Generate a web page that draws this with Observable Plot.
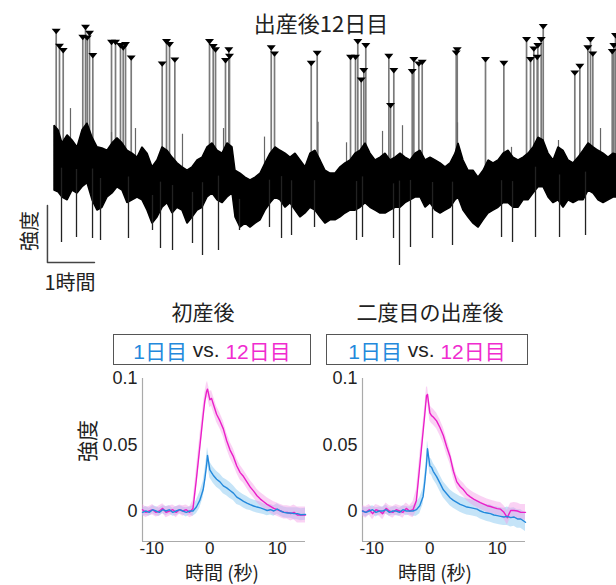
<!DOCTYPE html>
<html><head><meta charset="utf-8">
<script src="https://cdn.jsdelivr.net/npm/d3@7"></script>
<script src="https://cdn.jsdelivr.net/npm/@observablehq/plot@0.6"></script>
<style>
body{margin:0;background:#fff;}
#root{position:relative;width:616px;height:585px;overflow:hidden;font-family:"Liberation Sans","Noto Sans CJK JP",sans-serif;color:#222;}
.abs{position:absolute;white-space:nowrap;line-height:1;}
.svgwrap{position:absolute;}
.box{position:absolute;border:1.5px solid #555;box-sizing:border-box;display:flex;align-items:center;justify-content:center;font-size:21px;white-space:nowrap;}
</style></head><body><div id="root"></div>
<script>
// ---------- top trace (hours, intensity a.u.; scale bar = 1 h × 1 a.u.) ----------
const topTitle = "出産後12日目";
const traceHours = [0.000,0.085,0.170,0.277,0.383,0.489,0.596,0.702,0.809,0.915,1.021,1.128,1.234,1.340,1.447,1.553,1.660,1.766,1.872,1.979,2.085,2.191,2.298,2.404,2.511,2.617,2.723,2.830,2.936,3.043,3.149,3.255,3.362,3.468,3.574,3.681,3.787,3.851,3.957,4.064,4.170,4.277,4.383,4.489,4.596,4.702,4.809,4.915,5.021,5.128,5.234,5.340,5.447,5.553,5.660,5.766,5.872,5.979,6.085,6.191,6.298,6.404,6.511,6.617,6.723,6.830,6.936,7.043,7.149,7.255,7.362,7.468,7.574,7.681,7.787,7.894,8.000,8.106,8.213,8.319,8.426,8.532,8.596,8.702,8.809,8.915,9.021,9.128,9.234,9.340,9.447,9.553,9.660,9.766,9.872,9.979,10.085,10.191,10.298,10.404,10.511,10.617,10.723,10.830,10.936,11.043,11.149,11.255,11.362,11.468,11.574,11.681,11.787,11.894,12.000];
const traceHigh = [2.40,2.32,2.09,2.23,2.14,2.02,2.32,2.44,2.19,2.02,2.00,1.96,2.09,2.18,2.09,1.96,1.91,1.84,2.02,1.91,1.67,1.79,2.02,1.96,1.84,1.74,1.67,1.61,1.67,1.79,1.84,2.02,2.09,1.96,1.91,2.09,2.02,1.61,1.56,1.49,1.44,1.49,1.56,1.74,1.91,2.02,1.96,1.91,1.84,1.91,1.79,1.67,1.91,1.96,1.79,1.61,1.56,1.56,1.67,1.74,1.79,1.91,1.96,2.09,1.91,1.79,1.84,1.91,1.79,1.84,1.91,1.84,1.79,1.91,1.96,1.79,1.84,1.79,1.74,1.67,1.74,1.91,2.09,1.79,1.61,1.61,1.49,1.61,1.79,1.74,1.79,1.91,1.96,1.84,1.79,1.84,1.91,2.02,2.19,2.14,1.91,1.79,2.02,1.96,1.79,1.74,1.84,1.96,2.09,2.02,1.96,1.91,1.84,1.91,1.88];
const traceLow = [1.26,1.23,1.14,1.09,1.26,1.21,1.32,1.39,1.09,0.91,0.96,1.14,1.21,1.32,1.26,1.04,1.09,1.14,1.09,0.91,0.68,0.79,0.96,1.04,0.86,0.96,0.91,0.68,0.79,0.91,0.96,1.14,1.21,1.09,1.04,1.14,1.21,0.79,0.61,0.68,0.61,0.68,0.74,0.91,1.04,1.14,1.09,0.96,1.04,0.91,0.79,0.86,0.96,0.91,0.79,0.68,0.74,0.74,0.79,0.86,0.91,0.91,0.96,1.04,0.96,0.91,0.86,0.86,0.91,0.96,0.96,1.04,1.09,1.14,1.14,0.96,1.04,0.91,0.86,0.91,0.96,1.09,1.14,0.91,0.79,0.68,0.61,0.74,0.86,0.91,0.96,1.04,1.04,0.96,0.96,1.09,1.09,1.21,1.32,1.32,1.14,1.04,1.09,0.96,1.09,1.04,1.09,1.09,1.26,1.21,1.09,1.04,1.09,1.14,1.14];
const peakHours = [0.036,0.106,0.185,0.660,0.745,0.602,0.696,0.815,1.213,1.298,1.404,1.511,1.462,1.632,2.291,2.383,2.447,2.560,3.298,3.377,3.426,3.709,3.723,3.638,4.611,4.681,5.589,5.462,6.298,6.404,6.453,6.623,6.581,6.526,7.113,7.219,7.149,7.645,7.611,7.751,7.823,8.568,8.547,9.170,9.560,10.043,10.128,10.198,10.283,10.355,10.398,10.270,11.070,11.177,11.404,11.347,11.453,11.936,11.900,11.866];
const peakLevel = [4.058,3.795,3.719,4.128,4.023,3.953,3.942,3.632,3.865,3.865,3.807,3.825,3.767,3.591,3.486,3.877,3.825,3.556,3.877,3.789,3.732,3.732,3.619,3.544,3.767,3.661,3.672,3.496,3.602,3.602,3.877,3.807,3.368,3.205,3.619,3.368,2.754,3.561,3.351,3.486,3.514,3.732,3.679,3.561,3.496,3.912,3.561,3.749,3.807,3.912,4.140,3.602,3.328,3.444,3.912,3.767,3.661,3.982,3.807,3.702];
// unmarked upward transients (thin grey lines above the band)
const minorHours = [0.340,1.213,1.723,2.723,3.596,4.468,5.606,6.213,6.979,7.404,8.574,9.723,10.723,11.617];
const minorLevel = [2.70,2.28,2.35,2.25,2.35,2.20,2.46,2.10,2.30,2.40,2.45,2.02,2.14,2.35];
const dipHours = [0.149,0.468,0.809,0.979,1.574,2.085,2.255,2.511,2.936,3.149,3.489,3.936,4.574,4.830,5.043,5.532,6.426,6.553,7.213,7.340,7.574,8.043,8.468,9.511,9.745,10.234,10.745,11.298];
const dipLevel = [0.351,0.439,0.421,0.386,0.421,0.561,0.246,0.211,0.333,0.123,0.211,0.561,0.614,0.421,0.474,0.614,0.386,0.439,0.421,-0.053,0.263,0.421,0.298,0.439,0.351,0.439,0.439,0.474];
const scaleBarHours = [-0.15,-0.15,0.85];
const scaleBarLevel = [1,0,0];
const topXDomain = [-1.149, 11.957];
const topYDomain = [-0.491, 4.596];

// ---------- bottom panels (seconds, ΔF) ----------
const panelTitles = ["初産後", "二度目の出産後"];
const legendParts = ["1日目", " vs. ", "12日目"];
const xLabel = "時間 (秒)";
const yLabel = "強度";
const xTicks = [-10, 0, 10];
const yTicks = [0, 0.05, 0.1];
const xDomain = [-10, 14.2];
const yDomain = [-0.023, 0.1];
const tSec = [-10,-9.5,-9,-8.5,-8,-7.5,-7,-6.5,-6,-5.5,-5,-4.5,-4,-3.5,-3,-2.5,-2,-1.5,-1,-0.75,-0.5,-0.35,0,0.25,0.5,1,1.5,2,2.5,3,3.5,4,4.5,5,5.5,6,6.5,7,7.5,8,8.5,9,9.5,10,10.5,11,11.5,12,12.5,13,13.5,14.2];

const p1Day12 = [0.001,-0.001,0.000,0.001,-0.001,0.000,0.002,-0.001,0.000,0.001,-0.001,0.001,0.000,0.001,-0.001,
 0.002,0.024,0.048,0.072,0.083,0.090,0.092,
 0.084,0.085,0.081,
 0.073,0.068,0.062,0.053,0.046,0.041,0.034,0.029,0.026,0.022,0.018,0.015,0.0115,0.009,0.007,0.005,0.0035,0.002,0.001,
 0.000,-0.001,-0.001,-0.002,-0.001,-0.003,-0.003,-0.003];
const p1Day12Se = [0.004,0.004,0.0035,0.004,0.0035,0.004,0.0035,0.004,0.004,0.0035,0.004,0.0035,0.004,0.0035,0.004,
 0.006,0.008,0.008,0.007,0.006,0.006,0.006,
 0.006,0.006,0.006,
 0.006,0.006,0.006,0.006,0.006,0.006,0.0055,0.0055,0.005,0.005,0.005,0.005,0.005,0.005,0.005,0.005,0.005,0.005,0.005,
 0.005,0.005,0.005,0.0055,0.0055,0.006,0.006,0.006];
const p1Day1 = [-0.001,0.000,-0.001,0.001,0.000,-0.001,0.001,0.000,0.001,-0.001,0.000,0.001,0.000,-0.001,0.000,
 0.000,0.003,0.008,0.016,0.024,0.034,0.042,
 0.031,0.029,0.027,
 0.024,0.022,0.019,0.0175,0.0155,0.0135,0.0105,0.009,0.0073,0.006,0.0048,0.0038,0.003,0.0024,0.0014,0.0004,0.001,0.000,0.0015,
 0.000,-0.001,-0.0015,-0.0015,-0.002,-0.002,-0.0028,-0.0025];
const p1Day1Se = [0.003,0.0035,0.003,0.003,0.0035,0.003,0.003,0.0035,0.003,0.003,0.0035,0.003,0.003,0.0035,0.003,
 0.004,0.005,0.006,0.006,0.006,0.006,0.006,
 0.006,0.006,0.006,
 0.006,0.006,0.006,0.006,0.006,0.0055,0.0055,0.005,0.005,0.005,0.0045,0.0045,0.0045,0.0045,0.004,0.004,0.004,0.004,0.004,
 0.004,0.004,0.004,0.004,0.0045,0.0045,0.0045,0.0045];
const p2Day12 = [0.000,-0.001,0.001,-0.002,0.001,0.000,-0.002,0.002,0.000,-0.001,0.001,0.000,-0.001,0.002,0.000,
 0.001,0.008,0.034,0.060,0.073,0.087,0.088,
 0.074,0.072,0.071,
 0.068,0.063,0.057,0.0485,0.041,0.030,0.022,0.0185,0.016,0.0127,0.0107,0.009,0.0077,0.0064,0.0052,0.004,0.0034,0.0026,0.0018,
 0.0014,-0.001,-0.005,0.0004,0.0004,0.000,-0.001,-0.001];
const p2Day12Se = [0.004,0.0045,0.004,0.0045,0.004,0.004,0.0045,0.004,0.004,0.0045,0.004,0.004,0.0045,0.004,0.004,
 0.006,0.008,0.008,0.007,0.006,0.006,0.006,
 0.006,0.006,0.006,
 0.006,0.006,0.006,0.006,0.0055,0.0055,0.005,0.005,0.005,0.005,0.005,0.005,0.005,0.005,0.005,0.005,0.005,0.005,0.005,
 0.005,0.005,0.0055,0.0055,0.006,0.006,0.006,0.006];
const p2Day1 = [0.000,-0.001,0.000,0.001,-0.001,0.000,0.000,0.001,-0.001,0.000,0.000,-0.001,0.001,0.000,0.000,
 0.000,0.001,0.004,0.011,0.022,0.035,0.047,
 0.034,0.033,0.030,
 0.026,0.021,0.016,0.013,0.010,0.008,0.0065,0.005,0.004,0.003,0.0026,0.002,0.0014,0.000,-0.001,-0.0015,-0.002,-0.003,-0.0035,
 -0.004,-0.0045,-0.004,-0.005,-0.0045,-0.006,-0.006,-0.0085];
const p2Day1Se = [0.003,0.0035,0.003,0.003,0.0035,0.003,0.003,0.0035,0.003,0.003,0.0035,0.003,0.003,0.0035,0.003,
 0.004,0.005,0.006,0.006,0.006,0.006,0.006,
 0.006,0.006,0.006,
 0.006,0.006,0.006,0.006,0.006,0.006,0.006,0.006,0.006,0.006,0.006,0.006,0.006,0.006,0.006,0.0065,0.0065,0.0065,0.0065,
 0.0065,0.0065,0.007,0.007,0.007,0.007,0.007,0.007];

const BLUE = "#2389dc", MAGENTA = "#ea1fc8", BLUE_BAND = "#8ccaf2", PINK_BAND = "#f39be6";
const CJK = '"Noto Sans CJK JP", sans-serif';
const root = document.getElementById("root");

function addText(txt, x, y, size, opts = {}) {
  const d = document.createElement("div");
  d.className = "abs";
  d.textContent = txt;
  d.style.left = x + "px";
  d.style.top = y + "px";
  d.style.fontSize = size + "px";
  d.style.fontFamily = opts.font || CJK;
  let tr = "translateX(-50%)";
  if (opts.rotate) tr = "translate(-50%,-50%) rotate(-90deg)";
  d.style.transform = tr;
  if (opts.color) d.style.color = opts.color;
  root.appendChild(d);
  return d;
}

// ---- top panel ----
const env = traceHours.map((h, i) => ({h, hi: traceHigh[i], lo: traceLow[i]}));
function mid(h) {
  let j = d3.bisectLeft(traceHours, h);
  j = Math.max(1, Math.min(traceHours.length - 1, j));
  const a = env[j - 1], b = env[j];
  const f = Math.max(0, Math.min(1, (h - a.h) / (b.h - a.h)));
  return ((a.hi + a.lo) / 2) * (1 - f) + ((b.hi + b.lo) / 2) * f;
}
const peaks = peakHours.map((h, i) => ({h, v: peakLevel[i], base: mid(h)}));
const minors = minorHours.map((h, i) => ({h, v: minorLevel[i], base: mid(h)}));
const dips = dipHours.map((h, i) => ({h, v: dipLevel[i], base: mid(h)}));
const bar = scaleBarHours.map((h, i) => ({h, v: scaleBarLevel[i]}));
const tri = {draw(ctx, size) {
  const s = Math.sqrt(size / Math.PI);
  ctx.moveTo(-1.5 * s, -0.8 * s); ctx.lineTo(1.5 * s, -0.8 * s); ctx.lineTo(0, 1.0 * s); ctx.closePath();
}};
const traceChart = Plot.plot({
  width: 616, height: 290, margin: 0,
  x: {domain: topXDomain, axis: null},
  y: {domain: topYDomain, axis: null},
  style: {background: "transparent", overflow: "visible"},
  marks: [
    Plot.ruleX(peaks, {x: "h", y1: "base", y2: "v", stroke: "#7a7a7a", strokeWidth: 1.7}),
    Plot.ruleX(minors, {x: "h", y1: "base", y2: "v", stroke: "#666", strokeWidth: 1.2}),
    Plot.areaY(env, {x: "h", y1: "lo", y2: "hi", fill: "#000", stroke: "#000", strokeWidth: 1.5, strokeLinejoin: "miter"}),
    Plot.ruleX(dips, {x: "h", y1: "base", y2: "v", stroke: "#222", strokeWidth: 1.3}),
    Plot.dot(peaks, {x: "h", y: "v", symbol: tri, r: 3, fill: "#000", stroke: "none"}),
    Plot.line(bar, {x: "h", y: "v", stroke: "#444", strokeWidth: 1.5})
  ]
});
const w0 = document.createElement("div"); w0.className = "svgwrap"; w0.style.left = "0px"; w0.style.top = "0px";
w0.appendChild(traceChart); root.appendChild(w0);
addText(topTitle, 321, 11, 22);
addText(yLabel, 29, 231, 20, {rotate: true});
addText("1時間", 70, 272, 20);

// ---- bottom panels ----
function panel(m, mSe, b, bSe) {
  const rows = tSec.map((t, i) => ({t, m: m[i], mLo: m[i] - mSe[i], mHi: m[i] + mSe[i], b: b[i], bLo: b[i] - bSe[i], bHi: b[i] + bSe[i]}));
  const ax = {tickSize: 0, tickPadding: 0, label: null, fontSize: 17, tickFormat: d => String(d)};
  return Plot.plot({
    width: 260, height: 225, marginLeft: 82, marginRight: 15, marginTop: 18, marginBottom: 44,
    x: {domain: xDomain}, y: {domain: yDomain},
    style: {fontFamily: '"Liberation Sans", Arial, sans-serif', fontSize: "17px", color: "#222", background: "transparent", overflow: "visible"},
    marks: [
      Plot.ruleX([xDomain[0]], {stroke: "#aaa", strokeWidth: 1.2}),
      Plot.ruleY([yDomain[0]], {stroke: "#aaa", strokeWidth: 1.2}),
      Plot.areaY(rows, {x: "t", y1: "bLo", y2: "bHi", fill: BLUE_BAND, fillOpacity: 0.5}),
      Plot.areaY(rows, {x: "t", y1: "mLo", y2: "mHi", fill: PINK_BAND, fillOpacity: 0.45}),
      Plot.lineY(rows, {x: "t", y: "m", stroke: MAGENTA, strokeWidth: 1.4}),
      Plot.lineY(rows, {x: "t", y: "b", stroke: BLUE, strokeWidth: 1.4}),
      Plot.axisY(yTicks, {...ax, fontSize: 18, tickPadding: 5}),
      Plot.axisX(xTicks.filter(d => d >= 0), ax),
      Plot.axisX(xTicks.filter(d => d < 0), {...ax, textAnchor: "start", dx: -3})
    ]
  });
}
const panels = [
  {left: 60, svg: panel(p1Day12, p1Day12Se, p1Day1, p1Day1Se), title: 203, box: [113, 198], xl: 222},
  {left: 280, svg: panel(p2Day12, p2Day12Se, p2Day1, p2Day1Se), title: 430, box: [326, 202], xl: 435}
];
panels.forEach((p, i) => {
  const w = document.createElement("div"); w.className = "svgwrap";
  w.style.left = p.left + "px"; w.style.top = "360px";
  w.appendChild(p.svg); root.appendChild(w);
  addText(panelTitles[i], p.title, 301, 21);
  const bx = document.createElement("div"); bx.className = "box";
  bx.style.left = p.box[0] + "px"; bx.style.top = "334px"; bx.style.width = p.box[1] + "px"; bx.style.height = "31px";
  bx.style.fontFamily = '"Liberation Sans", "Noto Sans CJK JP", sans-serif';
  const cols = [BLUE, "#222", "#f02ccf"];
  legendParts.forEach((t, k) => {
    const s = document.createElement("span"); s.textContent = t; s.style.color = cols[k];
    if (k === 1) s.style.whiteSpace = "pre";
    bx.appendChild(s);
  });
  root.appendChild(bx);
  addText(xLabel, p.xl, 562, 19);
});
addText(yLabel, 86, 441, 21, {rotate: true});
</script></body></html>
